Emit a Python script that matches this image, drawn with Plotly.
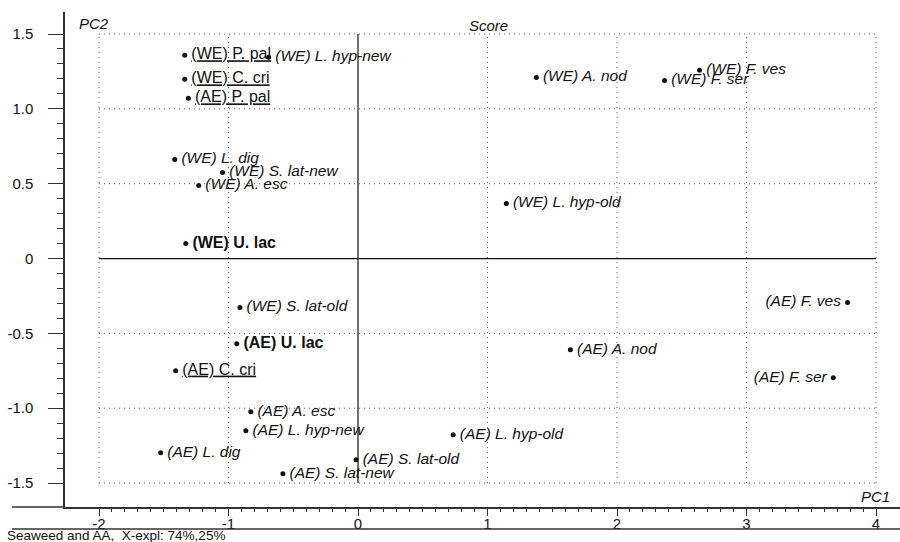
import numpy as np
import plotly.graph_objects as go

# ---- data ----
samples = [
    "(WE) P. pal", "(WE) L. hyp-new", "(WE) C. cri", "(AE) P. pal",
    "(WE) A. nod", "(WE) F. ser", "(WE) F. ves",
    "(WE) L. dig", "(WE) S. lat-new", "(WE) A. esc", "(WE) L. hyp-old",
    "(WE) U. lac",
    "(WE) S. lat-old", "(AE) F. ves", "(AE) U. lac", "(AE) A. nod",
    "(AE) C. cri", "(AE) F. ser", "(AE) A. esc", "(AE) L. hyp-new",
    "(AE) L. hyp-old", "(AE) L. dig", "(AE) S. lat-old", "(AE) S. lat-new",
]
pc1 = [
    -1.338, -0.690, -1.338, -1.310,
    1.377, 2.367, 2.637,
    -1.415, -1.046, -1.230, 1.145,
    -1.330,
    -0.912, 3.780, -0.936, 1.640,
    -1.408, 3.670, -0.828, -0.866,
    0.735, -1.524, -0.015, -0.580,
]
pc2 = [
    1.358, 1.345, 1.197, 1.070,
    1.210, 1.190, 1.258,
    0.662, 0.575, 0.488, 0.368,
    0.100,
    -0.328, -0.294, -0.569, -0.609,
    -0.749, -0.796, -1.023, -1.150,
    -1.177, -1.298, -1.345, -1.438,
]
underlined = ["(WE) P. pal", "(WE) C. cri", "(AE) P. pal", "(AE) C. cri"]
bold = ["(WE) U. lac", "(AE) U. lac"]
label_left = ["(AE) F. ves", "(AE) F. ser"]

x_ticks = [-2, -1, 0, 1, 2, 3, 4]
x_ticktext = ["-2", "-1", "0", "1", "2", "3", "4"]
y_ticks = [-1.5, -1.0, -0.5, 0, 0.5, 1.0, 1.5]
y_ticktext = ["-1.5", "-1.0", "-0.5", "0", "0.5", "1.0", "1.5"]

title_txt = "Score"
xlab = "PC1"
ylab = "PC2"
caption = "Seaweed and AA,\u00a0 X-expl: 74%,25%"

FONT = "Liberation Sans, Arial, sans-serif"
INK = "#111111"
AXC = "#333333"

fig = go.Figure()

# dots
fig.add_trace(go.Scatter(
    x=pc1, y=pc2, mode="markers", marker=dict(size=5, color=INK),
    cliponaxis=False, showlegend=False, hoverinfo="skip",
))


def add_group(names, style, weight, underline, pos, size):
    xs = [pc1[samples.index(n)] for n in names]
    ys = [pc2[samples.index(n)] for n in names]
    fig.add_trace(go.Scatter(
        x=xs, y=ys, mode="markers+text", text=names,
        textposition=pos,
        marker=dict(size=9, color="rgba(0,0,0,0)"),
        textfont=dict(family=FONT, size=size, color=INK, style=style,
                      weight=weight, lineposition="under" if underline else "none"),
        cliponaxis=False, showlegend=False, hoverinfo="text",
    ))


italic_names = [n for n in samples if n not in underlined and n not in bold and n not in label_left]
add_group(italic_names, "italic", "normal", False, "middle right", 15.5)
add_group([n for n in samples if n in label_left], "italic", "normal", False, "middle left", 15.5)
add_group([n for n in samples if n in underlined], "normal", "normal", True, "middle right", 16)
add_group([n for n in samples if n in bold], "normal", "bold", False, "middle right", 16)

# dotted grid inside box [-2,4] x [-1.5,1.5]
shapes = []
for xv in x_ticks:
    if xv == 0:
        continue
    shapes.append(dict(type="line", xref="x", yref="y", x0=xv, x1=xv, y0=-1.5, y1=1.5,
                       line=dict(color="#555555", width=1, dash="1px,4px"), layer="below"))
for yv in y_ticks:
    if yv == 0:
        continue
    shapes.append(dict(type="line", xref="x", yref="y", x0=-2, x1=4, y0=yv, y1=yv,
                       line=dict(color="#555555", width=1, dash="1px,4px"), layer="below"))
# zero lines
shapes.append(dict(type="line", xref="x", yref="y", x0=0, x1=0, y0=-1.5, y1=1.5,
                   line=dict(color=INK, width=1.2), layer="below"))
shapes.append(dict(type="line", xref="x", yref="y", x0=-2, x1=4, y0=0, y1=0,
                   line=dict(color=INK, width=1.2), layer="below"))
# x-axis line extension to the left and bottom frame line
shapes.append(dict(type="line", xref="paper", yref="paper", x0=-0.0635, x1=0, y0=0, y1=0,
                   line=dict(color=AXC, width=1.5)))
shapes.append(dict(type="line", xref="paper", yref="paper", x0=-0.0635, x1=1, y0=-0.0444, y1=-0.0444,
                   line=dict(color=AXC, width=1.5)))

minor_x = [round(v, 2) for v in np.arange(-2, 4.001, 0.1) if abs(v - round(v)) > 1e-6]
minor_y = [round(v, 2) for v in np.arange(-1.5, 1.501, 0.1) if abs(v * 2 - round(v * 2)) > 1e-6]

fig.update_layout(
    width=900, height=542,
    margin=dict(l=65, r=0, t=12, b=35),
    paper_bgcolor="white", plot_bgcolor="white",
    font=dict(family=FONT, color=INK),
    shapes=shapes,
    xaxis=dict(
        range=[-2.2625, 4.185], showgrid=False, zeroline=False,
        showline=True, linecolor=AXC, linewidth=1.5,
        ticks="outside", ticklen=7, tickwidth=1.2, tickcolor=AXC,
        tickmode="array", tickvals=x_ticks, ticktext=x_ticktext,
        tickfont=dict(family=FONT, size=15, color=INK),
        ticklabelstandoff=-5,
        minor=dict(tickmode="array", tickvals=minor_x, ticks="outside",
                   ticklen=3, tickwidth=1, tickcolor=AXC, showgrid=False),
    ),
    yaxis=dict(
        range=[-1.660, 1.647], showgrid=False, zeroline=False,
        showline=True, linecolor=AXC, linewidth=1.5,
        ticks="outside", ticklen=15, tickwidth=1.2, tickcolor=AXC,
        tickmode="array", tickvals=y_ticks, ticktext=y_ticktext,
        tickfont=dict(family=FONT, size=15, color=INK),
        ticklabelstandoff=12,
        minor=dict(tickmode="array", tickvals=minor_y, ticks="outside",
                   ticklen=6, tickwidth=1, tickcolor=AXC, showgrid=False),
    ),
    annotations=[
        dict(text=ylab, xref="paper", yref="paper", x=0.0140, y=0.976,
             xanchor="left", yanchor="middle", showarrow=False,
             font=dict(family=FONT, size=15, color=INK, style="italic")),
        dict(text=title_txt, xref="paper", yref="paper", x=0.4814, y=0.972,
             xanchor="left", yanchor="middle", showarrow=False,
             font=dict(family=FONT, size=15, color=INK, style="italic")),
        dict(text=xlab, xref="paper", yref="paper", x=0.990, y=0.0222,
             xanchor="right", yanchor="middle", showarrow=False,
             font=dict(family=FONT, size=15, color=INK, style="italic")),
        dict(text=caption, xref="paper", yref="paper", x=-0.0719, y=-0.0585,
             xanchor="left", yanchor="middle", showarrow=False,
             font=dict(family=FONT, size=13.5, color=INK)),
    ],
)

fig.write_html("out.html")
